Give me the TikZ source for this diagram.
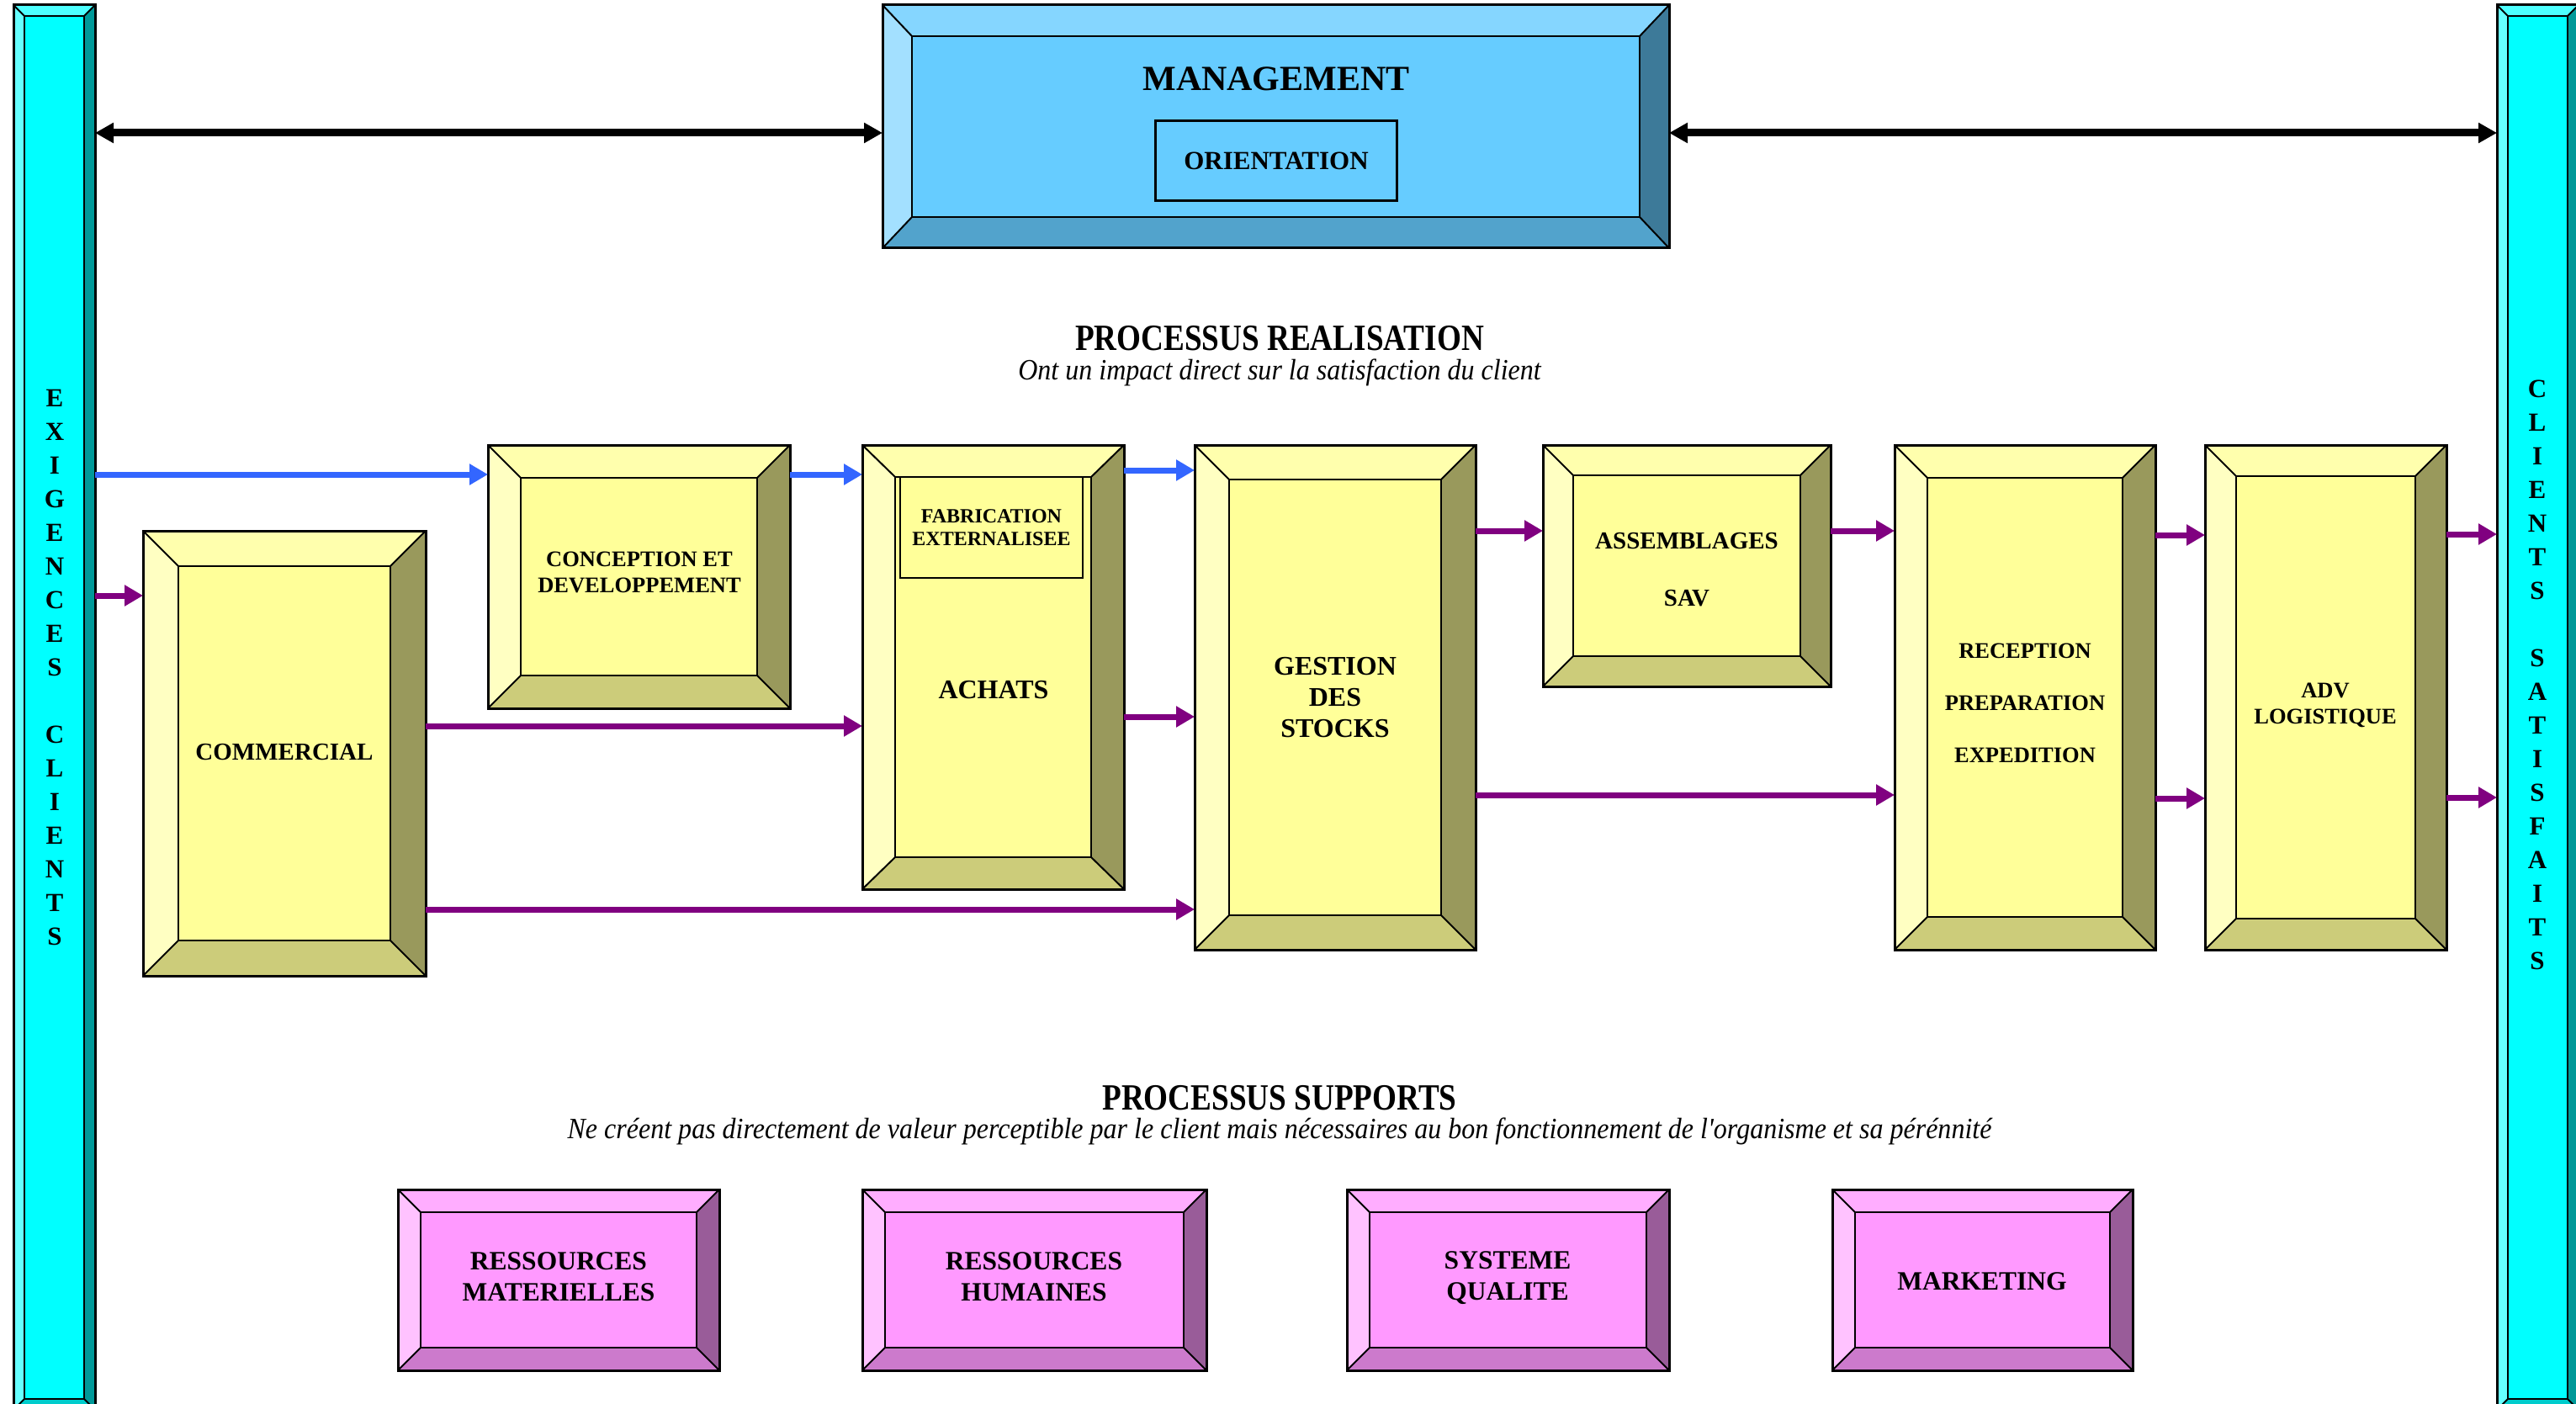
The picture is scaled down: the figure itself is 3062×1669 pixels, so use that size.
\documentclass[tikz,border=0pt]{standalone}
\usepackage{fontspec}
\setmainfont{Liberation Serif}
\newfontfamily\narrowserif[FakeStretch=0.845]{Liberation Serif}
\newfontfamily\slimserif[FakeStretch=0.915]{Liberation Serif}
\usetikzlibrary{arrows.meta,fit}

% bevel palettes: T top, L left, C face, R right, B bottom
\definecolor{yT}{HTML}{FFFFAD}\definecolor{yL}{HTML}{FFFFC2}\definecolor{yC}{HTML}{FFFF99}
\definecolor{yR}{HTML}{99995C}\definecolor{yB}{HTML}{CCCC7A}
\definecolor{pT}{HTML}{FFADFF}\definecolor{pL}{HTML}{FFC2FF}\definecolor{pC}{HTML}{FF99FF}
\definecolor{pR}{HTML}{995C99}\definecolor{pB}{HTML}{CC7ACC}
\definecolor{bT}{HTML}{85D6FF}\definecolor{bL}{HTML}{A3E0FF}\definecolor{bC}{HTML}{66CCFF}
\definecolor{bR}{HTML}{3D7A99}\definecolor{bB}{HTML}{52A3CC}
\definecolor{cT}{HTML}{4DFFFF}\definecolor{cL}{HTML}{66FFFF}\definecolor{cC}{HTML}{00FFFF}
\definecolor{cR}{HTML}{009999}\definecolor{cB}{HTML}{00CCCC}
\definecolor{arrowblue}{HTML}{3366FF}
\definecolor{arrowpurple}{HTML}{800080}

\newcommand\fsz[2]{\fontsize{#1}{#2}\selectfont}

% bevelled box: name, x1, y1, x2, y2, side bevel, top/bottom bevel, palette
\newcommand\bevbox[8]{%
  \node[fit={(#2,#3) (#4,#5)}, inner sep=0pt, outer sep=0pt] (#1) {};
  \fill[#8T] (#2,#3) -- (#4,#3) -- (#4-#6,#3+#7) -- (#2+#6,#3+#7) -- cycle;
  \fill[#8L] (#2,#3) -- (#2+#6,#3+#7) -- (#2+#6,#5-#7) -- (#2,#5) -- cycle;
  \fill[#8R] (#4,#3) -- (#4,#5) -- (#4-#6,#5-#7) -- (#4-#6,#3+#7) -- cycle;
  \fill[#8B] (#2,#5) -- (#2+#6,#5-#7) -- (#4-#6,#5-#7) -- (#4,#5) -- cycle;
  \fill[#8C] (#2+#6,#3+#7) rectangle (#4-#6,#5-#7);
  \draw[bevedge] (#2,#3) -- (#2+#6,#3+#7) (#4,#3) -- (#4-#6,#3+#7)
                 (#2,#5) -- (#2+#6,#5-#7) (#4,#5) -- (#4-#6,#5-#7);
  \draw[bevinner] (#2+#6,#3+#7) rectangle (#4-#6,#5-#7);
  \draw[bevouter] (#2,#3) rectangle (#4,#5);
}

\tikzset{
  bevouter/.style={draw=black, line width=3pt},
  bevinner/.style={draw=black, line width=2.5pt},
  bevedge/.style={draw=black, line width=2pt},
  lbl/.style={inner sep=0pt, align=center},
  flowP/.style={draw=arrowpurple, line width=7pt, -{Triangle[length=22pt,width=24pt]}},
  flowB/.style={draw=arrowblue, line width=7pt, -{Triangle[length=22pt,width=24pt]}},
  mgmtlink/.style={draw=black, line width=9pt,
    {Triangle[length=22pt,width=23pt]}-{Triangle[length=22pt,width=23pt]}},
}

\begin{document}
\begin{tikzpicture}[x=1pt, y=-1pt]
\useasboundingbox (0,0) rectangle (3062,1669);
\clip (0,0) rectangle (3062,1669);
\fill[white] (0,0) rectangle (3062,1669);

% side columns
\bevbox{leftbar}{16}{6}{113}{1676}{13}{13}{c}
\bevbox{rightbar}{2968}{6}{3065}{1676}{13}{13}{c}
\node[lbl, font={\bfseries\fsz{31}{40}}] (exig) at (65,793)
  {E\\X\\I\\G\\E\\N\\C\\E\\S\\[40pt]C\\L\\I\\E\\N\\T\\S};
\node[lbl, font={\bfseries\fsz{31}{40}}] (satis) at (3016,802)
  {C\\L\\I\\E\\N\\T\\S\\[40pt]S\\A\\T\\I\\S\\F\\A\\I\\T\\S};

% management
\bevbox{mgmt}{1049}{6}{1984}{295}{35}{37}{b}
\node[lbl, font={\bfseries\fsz{42}{50}}] (mgmttxt) at (1517,94) {MANAGEMENT};
\node[draw, line width=2.5pt, fill=bC, minimum width=287pt, minimum height=95pt,
      inner sep=0pt, font={\bfseries\fsz{31}{37}}] (orient) at (1517,191) {ORIENTATION};

% section titles
\node[lbl, font={\narrowserif\bfseries\fsz{44}{50}}] (realtitle) at (1521,402) {PROCESSUS REALISATION};
\node[lbl, font={\slimserif\itshape\fsz{35}{40}}] (realsub) at (1521,443)
  {Ont un impact direct sur la satisfaction du client};
\node[lbl, font={\narrowserif\bfseries\fsz{44}{50}}] (suptitle) at (1521,1305) {PROCESSUS SUPPORTS};
\node[lbl, font={\slimserif\itshape\fsz{35}{40}}] (supsub) at (1521,1345)
  {Ne créent pas directement de valeur perceptible par le client mais nécessaires au bon fonctionnement de l'organisme et sa pérénnité};

% realisation processes
\bevbox{commercial}{170}{631}{506}{1160}{42}{42}{y}
\node[lbl, font={\bfseries\fsz{29}{35}}] (commtxt) at (338,894) {COMMERCIAL};

\bevbox{conception}{580}{529}{939}{842}{39}{39}{y}
\node[lbl, font={\bfseries\fsz{26.5}{31}}] (conctxt) at (760,680) {CONCEPTION ET\\DEVELOPPEMENT};

\bevbox{achats}{1025}{529}{1336}{1057}{39}{38}{y}
\node[draw, line width=2.5pt, fill=yC, minimum width=217pt, minimum height=120pt, inner sep=0pt,
      font={\bfseries\fsz{24}{27}}, align=center] (fab) at (1178.5,627) {FABRICATION\\EXTERNALISEE};
\node[lbl, font={\bfseries\fsz{32}{38}}] (achtxt) at (1181,820) {ACHATS};

\bevbox{stocks}{1420}{529}{1754}{1129}{41}{41}{y}
\node[lbl, font={\bfseries\fsz{32}{37}}] (stocktxt) at (1587,829) {GESTION\\DES\\STOCKS};

\bevbox{assemb}{1834}{529}{2176}{816}{36}{36}{y}
\node[lbl, font={\bfseries\fsz{29}{68}}] (asstxt) at (2005,677) {ASSEMBLAGES\\SAV};

\bevbox{reception}{2252}{529}{2562}{1129}{39}{39}{y}
\node[lbl, font={\bfseries\fsz{26.5}{62}}] (rectxt) at (2407,836) {RECEPTION\\PREPARATION\\EXPEDITION};

\bevbox{adv}{2621}{529}{2908}{1129}{37}{37}{y}
\node[lbl, font={\bfseries\fsz{26.5}{31}}] (advtxt) at (2764,838) {ADV\\LOGISTIQUE};

% support processes
\bevbox{resmat}{473}{1414}{855}{1629}{27}{27}{p}
\node[lbl, font={\bfseries\fsz{31.5}{37}}] (resmattxt) at (664,1518) {RESSOURCES\\MATERIELLES};
\bevbox{reshum}{1025}{1414}{1434}{1629}{27}{27}{p}
\node[lbl, font={\bfseries\fsz{31.5}{37}}] (reshumtxt) at (1229,1518) {RESSOURCES\\HUMAINES};
\bevbox{qualite}{1601}{1414}{1984}{1629}{27}{27}{p}
\node[lbl, font={\bfseries\fsz{31.5}{37}}] (qualtxt) at (1792,1519) {SYSTEME\\QUALITE};
\bevbox{marketing}{2178}{1414}{2535}{1629}{27}{27}{p}
\node[lbl, font={\bfseries\fsz{31.5}{37}}] (marktxt) at (2356,1523) {MARKETING};

% management links
\draw[mgmtlink] (leftbar.east |- 0,158) -- (mgmt.west |- 0,158);
\draw[mgmtlink] (mgmt.east |- 0,158) -- (rightbar.west |- 0,158);

% design and purchasing flow
\draw[flowB] (leftbar.east |- 0,564) -- (conception.west |- 0,564);
\draw[flowB] (conception.east |- 0,564) -- (achats.west |- 0,564);
\draw[flowB] (achats.east |- 0,559) -- (stocks.west |- 0,559);

% order flow
\draw[flowP] (leftbar.east |- 0,708) -- (commercial.west |- 0,708);
\draw[flowP] (commercial.east |- 0,863) -- (achats.west |- 0,863);
\draw[flowP] (commercial.east |- 0,1081) -- (stocks.west |- 0,1081);
\draw[flowP] (achats.east |- 0,852) -- (stocks.west |- 0,852);
\draw[flowP] (stocks.east |- 0,631) -- (assemb.west |- 0,631);
\draw[flowP] (stocks.east |- 0,945) -- (reception.west |- 0,945);
\draw[flowP] (assemb.east |- 0,631) -- (reception.west |- 0,631);
\draw[flowP] (reception.east |- 0,636) -- (adv.west |- 0,636);
\draw[flowP] (reception.east |- 0,949) -- (adv.west |- 0,949);
\draw[flowP] (adv.east |- 0,635) -- (rightbar.west |- 0,635);
\draw[flowP] (adv.east |- 0,948) -- (rightbar.west |- 0,948);
\end{tikzpicture}
\end{document}
